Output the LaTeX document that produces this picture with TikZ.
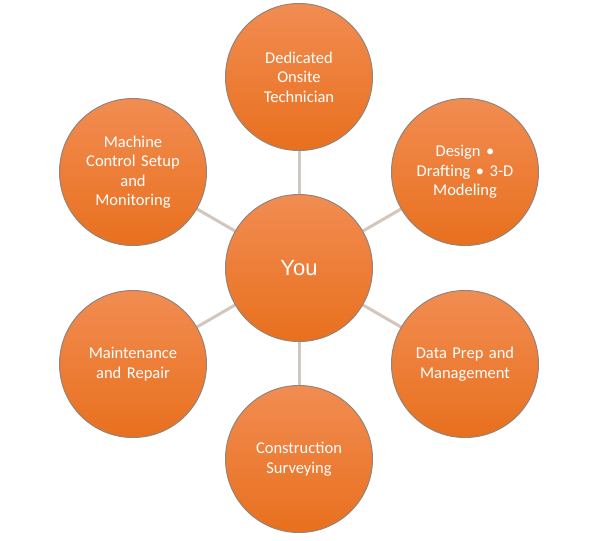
\documentclass[tikz,border=0pt]{standalone}
\usepackage{fontspec}
\setmainfont{Carlito}
\newfontfamily\youfont{Liberation Sans}
\definecolor{orTop}{HTML}{F28C52}
\definecolor{orBot}{HTML}{E8701E}
\definecolor{rimC}{HTML}{948478}
\definecolor{linkC}{HTML}{D3C7BD}
\begin{document}
\begin{tikzpicture}[x=1pt,y=-1pt,
  bubble/.style={circle,minimum size=147pt,inner sep=0pt,draw=rimC,line width=1pt,
    top color=orTop,bottom color=orBot,text=white,align=center,
    font=\fontsize{16.5}{19.5}\selectfont,text width=118pt},
  link/.style={draw=linkC,line width=3pt}]
\useasboundingbox (0,0) rectangle (598,541);
\coordinate (cc) at (299,268);
\path (299,77) coordinate (p1) (465,172) coordinate (p2) (465,364) coordinate (p3)
      (299,459) coordinate (p4) (133,364) coordinate (p5) (133,172) coordinate (p6);
\foreach \i in {1,...,6} \draw[link] (cc) -- (p\i);
\node[bubble] (you) at (cc) {\youfont\fontsize{22}{26}\selectfont You};
\node[bubble] (tech) at (p1) {Dedicated\\Onsite\\Technician};
\node[bubble] (design) at (p2) {Design •\\Drafting • 3-D\\Modeling};
\node[bubble] (data) at (p3) {Data Prep and\\Management};
\node[bubble] (survey) at (p4) {Construction\\Surveying};
\node[bubble] (maint) at (p5) {Maintenance\\and Repair};
\node[bubble] (machine) at (p6) {Machine\\Control Setup\\and\\Monitoring};
\end{tikzpicture}
\end{document}
